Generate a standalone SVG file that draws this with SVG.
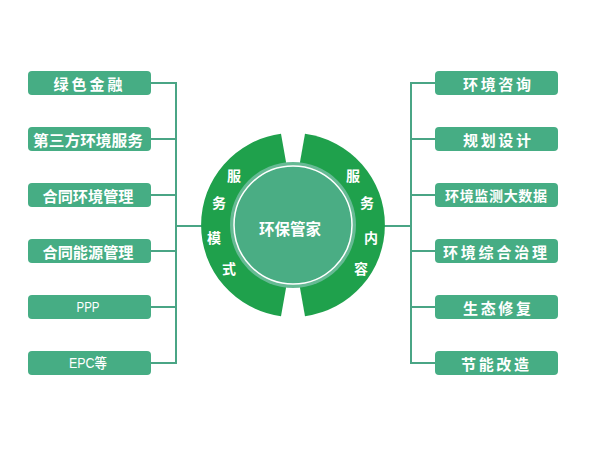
<svg xmlns="http://www.w3.org/2000/svg" width="600" height="450" viewBox="0 0 600 450">
<style>
.box{fill:#46ad84}
.bt{fill:#fff;font-family:"Noto Sans CJK SC","Liberation Sans",sans-serif;font-size:15px;font-weight:bold;text-anchor:middle;dominant-baseline:central}
.lt{fill:#fff;font-family:"Liberation Sans","Noto Sans CJK SC",sans-serif;font-size:14px;font-weight:500;text-anchor:middle;dominant-baseline:central}
.rt{fill:#fff;font-family:"Noto Sans CJK SC",sans-serif;font-size:14px;font-weight:bold;text-anchor:middle;dominant-baseline:central}
.ln{stroke:#4aa585;stroke-width:2;fill:none}
.ring{fill:#1fa14c}
</style>
<rect width="600" height="450" fill="#fff"/>
<g id="connectors">
<path class="ln" d="M151 83H176M151 139H176M151 195H176M151 251H176M151 307H176M151 363H176M176 82V364M176 226H203"/>
<path class="ln" d="M435 83H411M435 139H411M435 195H411M435 251H411M435 307H411M435 363H411M411 82V364M411 226H384"/>
</g>
<g id="hub">
<path class="ring" d="M281 133.8A92 92 0 0 0 281 316.2L286 288L286 162Z"/>
<path class="ring" d="M305 133.8A92 92 0 0 1 305 316.2L300 288L300 162Z"/>
<circle cx="293" cy="225" r="63" fill="#66ba94"/>
<circle cx="293" cy="225" r="59" fill="#4aad84" stroke="#fff" stroke-width="1.5"/>
<text x="290" y="228" class="bt" style="font-size:16px" textLength="62" lengthAdjust="spacingAndGlyphs">环保管家</text>
<text x="234" y="175" class="rt">服</text>
<text x="219" y="202" class="rt">务</text>
<text x="214" y="237" class="rt">模</text>
<text x="229" y="268" class="rt">式</text>
<text x="353" y="175" class="rt">服</text>
<text x="367" y="202" class="rt">务</text>
<text x="371" y="237" class="rt">内</text>
<text x="361" y="268" class="rt">容</text>
</g>
<g id="l1"><rect class="box" x="28" y="71" width="123" height="24" rx="4"/><text class="bt" x="88" y="83" textLength="69" lengthAdjust="spacing">绿色金融</text></g>
<g id="l2"><rect class="box" x="28" y="127" width="123" height="24" rx="4"/><text class="bt" x="88" y="139" textLength="110" lengthAdjust="spacingAndGlyphs">第三方环境服务</text></g>
<g id="l3"><rect class="box" x="28" y="183" width="123" height="24" rx="4"/><text class="bt" x="88" y="195" textLength="91" lengthAdjust="spacingAndGlyphs">合同环境管理</text></g>
<g id="l4"><rect class="box" x="28" y="239" width="123" height="24" rx="4"/><text class="bt" x="88" y="251" textLength="91" lengthAdjust="spacingAndGlyphs">合同能源管理</text></g>
<g id="l5"><rect class="box" x="28" y="295" width="123" height="24" rx="4"/><text class="lt" x="88" y="307" textLength="23" lengthAdjust="spacingAndGlyphs">PPP</text></g>
<g id="l6"><rect class="box" x="28" y="351" width="123" height="24" rx="4"/><text class="lt" x="88" y="363" textLength="38" lengthAdjust="spacingAndGlyphs">EPC等</text></g>
<g id="r1"><rect class="box" x="435" y="71" width="123" height="24" rx="4"/><text class="bt" x="497" y="83" textLength="68" lengthAdjust="spacing">环境咨询</text></g>
<g id="r2"><rect class="box" x="435" y="127" width="123" height="24" rx="4"/><text class="bt" x="497" y="139" textLength="68" lengthAdjust="spacing">规划设计</text></g>
<g id="r3"><rect class="box" x="435" y="183" width="123" height="24" rx="4"/><text class="bt" x="496" y="195" style="font-size:14px" textLength="102" lengthAdjust="spacing">环境监测大数据</text></g>
<g id="r4"><rect class="box" x="435" y="239" width="123" height="24" rx="4"/><text class="bt" x="495" y="251" textLength="104" lengthAdjust="spacing">环境综合治理</text></g>
<g id="r5"><rect class="box" x="435" y="295" width="123" height="24" rx="4"/><text class="bt" x="497" y="307" textLength="68" lengthAdjust="spacing">生态修复</text></g>
<g id="r6"><rect class="box" x="435" y="351" width="123" height="24" rx="4"/><text class="bt" x="495" y="363" textLength="68" lengthAdjust="spacing">节能改造</text></g>
</svg>
